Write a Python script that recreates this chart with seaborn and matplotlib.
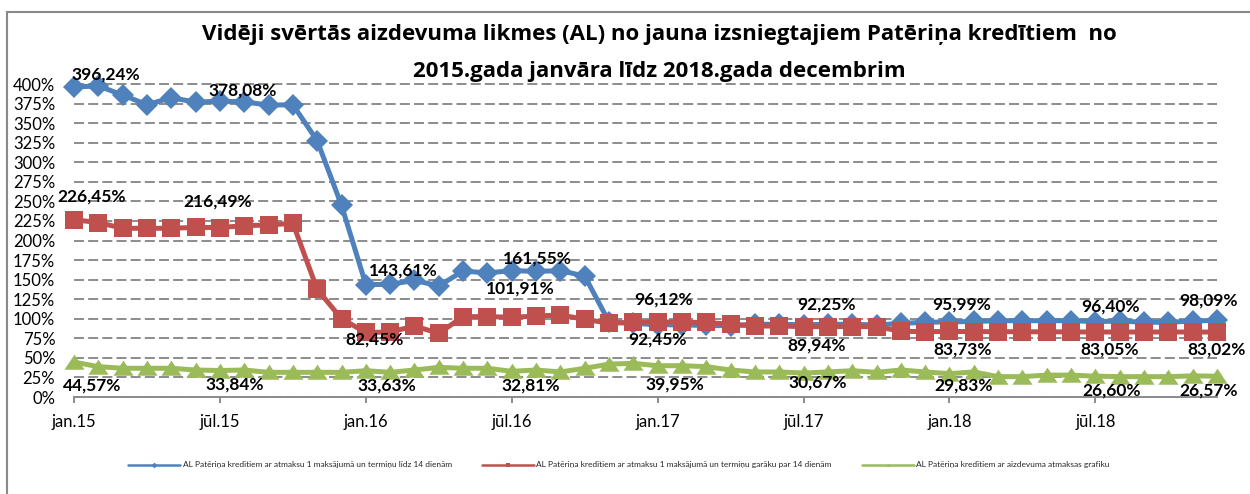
import matplotlib
matplotlib.use("Agg")
import matplotlib.pyplot as plt
import seaborn as sns
import pandas as pd
from matplotlib.patches import Rectangle
from matplotlib.lines import Line2D

# ---------------- data ----------------
month_abbr = ["jan", "feb", "mar", "apr", "mai", "jūn", "jūl", "aug", "sep", "okt", "nov", "dec"]
years = ["15", "16", "17", "18"]
months = [f"{m}.{y}" for y in years for m in month_abbr]

series_names = [
    "AL Patēriņa kredītiem ar atmaksu 1 maksājumā un termiņu līdz 14 dienām",
    "AL Patēriņa kredītiem ar atmaksu 1 maksājumā un termiņu garāku par 14 dienām",
    "AL Patēriņa kredītiem ar aizdevuma atmaksas grafiku",
]

blue_values = [396.24, 397.5, 386.0, 373.5, 382.5, 376.8, 378.08, 377.2, 373.0, 373.5,
               327.5, 245.0, 143.61, 144.0, 149.0, 142.0, 161.0, 158.5, 161.55, 160.5,
               161.5, 154.6, 96.0, 94.0, 92.45, 92.0, 91.5, 91.0, 93.0, 93.0,
               92.25, 93.0, 93.0, 92.0, 94.0, 95.5, 95.99, 96.5, 97.5, 97.5,
               97.5, 97.5, 96.40, 97.0, 95.5, 95.5, 97.0, 98.09]

red_values = [226.45, 223.0, 215.6, 215.6, 215.6, 216.8, 216.49, 219.0, 219.8, 222.0,
              137.6, 100.0, 82.45, 83.0, 90.7, 81.4, 102.7, 102.7, 101.91, 103.4,
              104.8, 99.3, 94.2, 95.4, 96.12, 95.4, 95.4, 92.9, 90.7, 90.7,
              89.94, 90.0, 90.0, 90.0, 84.0, 83.5, 83.73, 83.6, 83.5, 83.4,
              83.3, 83.2, 83.05, 83.1, 83.0, 83.1, 83.0, 83.02]

green_values = [44.57, 38.8, 36.7, 36.7, 36.7, 34.5, 33.84, 34.5, 31.5, 31.5,
                31.5, 31.5, 33.63, 31.5, 34.5, 37.9, 36.7, 36.7, 32.81, 34.5,
                32.0, 36.7, 42.0, 43.0, 39.95, 40.0, 38.8, 34.5, 32.0, 32.0,
                30.67, 32.0, 33.6, 31.5, 34.5, 32.0, 29.83, 32.0, 26.0, 26.0,
                28.0, 28.0, 26.60, 26.0, 26.0, 26.0, 27.0, 26.57]

labelled_months = ["jan.15", "jūl.15", "jan.16", "jūl.16", "jan.17", "jūl.17", "jan.18", "jūl.18", "dec.18"]
tick_labels = ["jan.15", "jūl.15", "jan.16", "jūl.16", "jan.17", "jūl.17", "jan.18", "jūl.18"]
y_ticks = list(range(0, 401, 25))

title_line1 = "Vidēji svērtās aizdevuma likmes (AL) no jauna izsniegtajiem Patēriņa kredītiem  no"
title_line2 = "2015.gada janvāra līdz 2018.gada decembrim"

# ---------------- layout / style ----------------
W, H = 1250, 494
colors = ["#4F81BD", "#C0504D", "#9BBB59"]
tri = [(-1, -0.72), (1, -0.72), (0, 0.78)]
markers = ["D", "s", tri]
msizes = [11, 13.5, 14.5]
# label offsets in pixels (dx right, dy down) per series
label_offsets = [
    [(32, -12), (23, -11), (37, -14), (26, -12), (0, 15), (23, -20), (12, -17), (15, -15), (-9, -20)],
    [(18, -23), (-2, -26), (9, 7), (9, -29), (6, -22), (13, 19), (13, 18), (14, 18), (0, 17)],
    [(18, 23), (15, 14), (21, 15), (19, 14), (17, 19), (14, 10), (14, 12), (16, 14), (-8, 14)],
]

df = pd.DataFrame({"month": months, "pos": range(len(months)),
                   "s0": blue_values, "s1": red_values, "s2": green_values})

sns.set_theme(style="white")
plt.rcParams["font.family"] = ["Lato", "DejaVu Sans"]
plt.rcParams["lines.scale_dashes"] = False

fig = plt.figure(figsize=(W / 100, H / 100), dpi=100)
ax = fig.add_axes([74 / W, 1 - 397 / H, (1217 - 74) / W, (397 - 84) / H])

for i in range(3):
    sns.lineplot(data=df, x="pos", y=f"s{i}", ax=ax, color=colors[i], lw=3.6,
                 marker=markers[i], markersize=msizes[i], markeredgewidth=0,
                 clip_on=False, zorder=3 + i)

# data labels
for i in range(3):
    vals = df[f"s{i}"].tolist()
    for k, m in enumerate(labelled_months):
        p = months.index(m)
        v = vals[p]
        dx, dy = label_offsets[i][k]
        ax.annotate(f"{v:.2f}".replace(".", ",") + "%", xy=(p, v),
                    xytext=(dx, -dy), textcoords="offset pixels",
                    ha="center", va="center", fontsize=12.5, fontweight="bold",
                    color="black", zorder=10, annotation_clip=False)

ax.set_xlim(0, len(months) - 1)
ax.set_ylim(0, 400)
ax.set_yticks(y_ticks)
ax.set_yticklabels([f"{v}%" for v in y_ticks])
ax.set_xticks([months.index(t) for t in tick_labels])
ax.set_xticklabels(tick_labels)
ax.set_xlabel("")
ax.set_ylabel("")

ax.grid(axis="y", color="#8c8c8c", linestyle=(0, (7.2, 3.0)), linewidth=1.4)
ax.grid(axis="x", visible=False)
for gl in ax.get_ygridlines():
    gl.set_clip_on(False)
ax.set_axisbelow(True)

for s in ["left", "top", "right"]:
    ax.spines[s].set_visible(False)
ax.spines["bottom"].set_color("#8c8c8c")
ax.spines["bottom"].set_linewidth(1.4)

ax.tick_params(axis="x", direction="out", length=4.5, width=1.4, color="#8c8c8c",
               labelsize=12, labelcolor="black", pad=8, bottom=True)
ax.tick_params(axis="y", length=0, labelsize=12, labelcolor="black", pad=13.5)

# title
for line, base in [(title_line1, 40), (title_line2, 77)]:
    fig.text(659 / W, 1 - base / H, line, ha="center", va="baseline",
             fontsize=16, fontweight="bold", color="black",
             family=["Open Sans", "DejaVu Sans"])

# legend
handles = [Line2D([0], [0], color=colors[i], lw=1.8, marker=markers[i], markersize=3,
                  markeredgewidth=0) for i in range(3)]
fig.legend(handles, series_names, loc="center", bbox_to_anchor=(619 / W, 1 - 465 / H),
           ncol=3, frameon=False, fontsize=6, handlelength=6.2, columnspacing=3.6,
           handletextpad=0.35)

# outer chart frame
fig.patches.append(Rectangle((7 / W, -0.1), 1.2, 1 - 12 / H + 0.1, transform=fig.transFigure,
                             fill=False, ec="#898989", lw=1.5))

fig.savefig("out.png", dpi=100)
